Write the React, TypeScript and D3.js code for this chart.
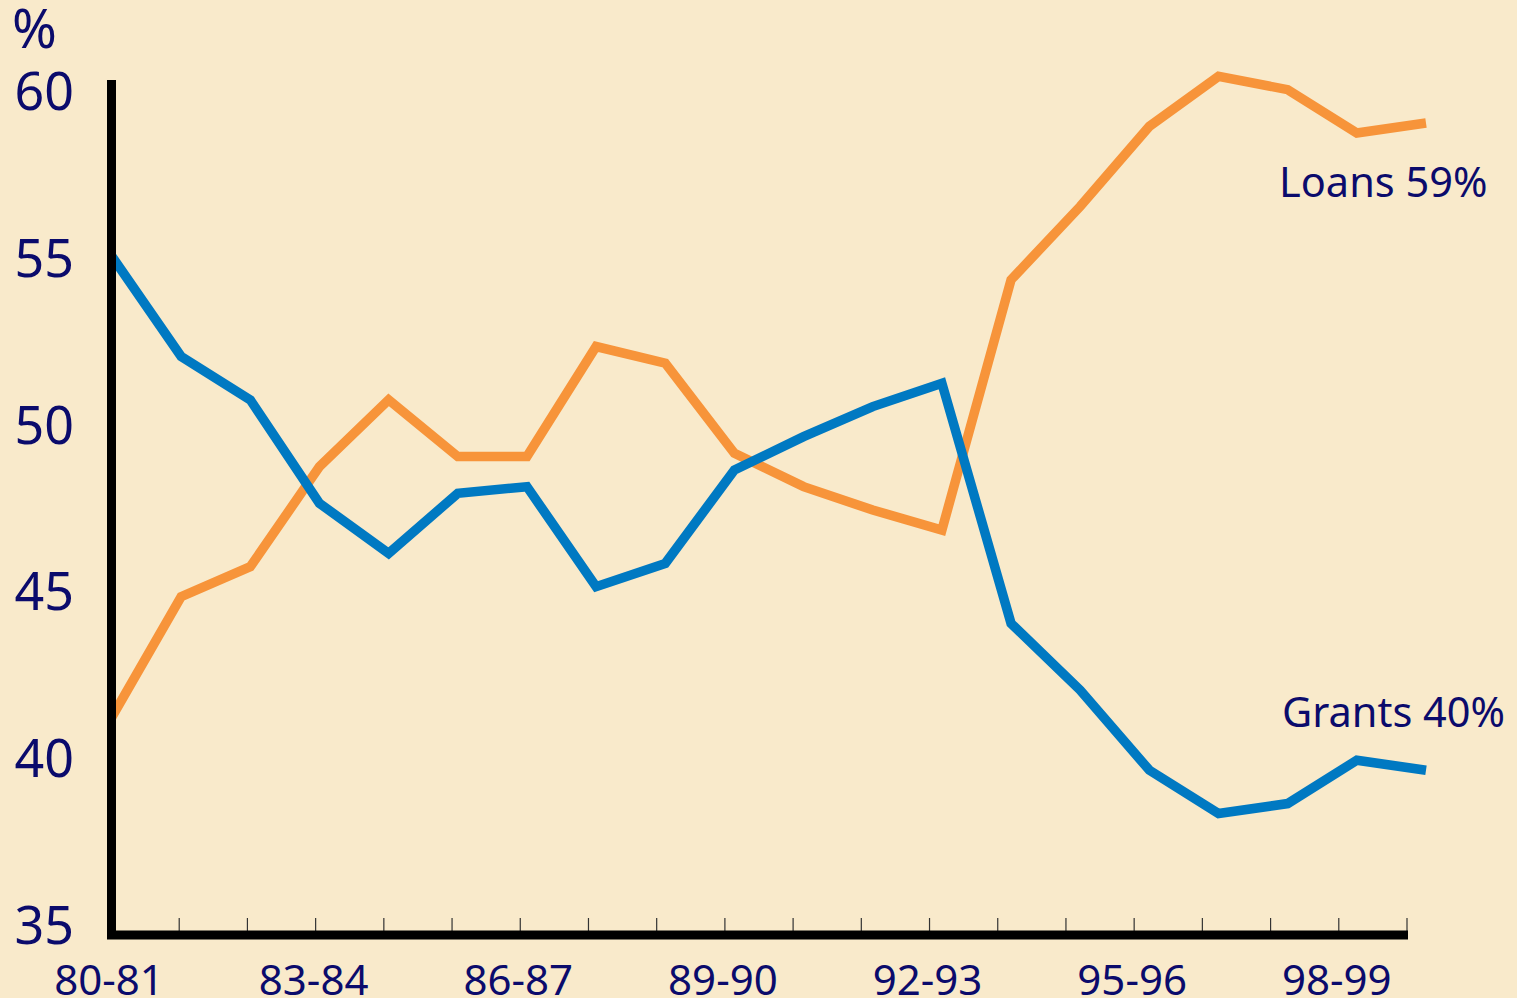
import React from "react";
import * as d3 from "d3";

const categories = [
  "80-81", "81-82", "82-83", "83-84", "84-85", "85-86", "86-87", "87-88", "88-89", "89-90",
  "90-91", "91-92", "92-93", "93-94", "94-95", "95-96", "96-97", "97-98", "98-99", "99-00",
];
const grants = [55.1, 52.1, 50.8, 47.7, 46.2, 48.0, 48.2, 45.2, 45.9, 48.7, 49.7, 50.6, 51.3, 44.1, 42.1, 39.7, 38.4, 38.7, 40.0, 39.7];
const loans = [41.3, 44.9, 45.8, 48.8, 50.8, 49.1, 49.1, 52.4, 51.9, 49.2, 48.2, 47.5, 46.9, 54.4, 56.6, 59.0, 60.5, 60.1, 58.8, 59.1];
const yTicks = [35, 40, 45, 50, 55, 60];
const labeledCategories = ["80-81", "83-84", "86-87", "89-90", "92-93", "95-96", "98-99"];
const seriesLabels = ["Loans 59%", "Grants 40%"];

const W = 1517;
const H = 998;
const NAVY = "#0b0b6c";
const FONT = "'Noto Sans', 'Open Sans', sans-serif";

export default function App() {
  const y = d3.scaleLinear().domain([35, 60]).range([927, 93]);
  const xTick = d3.scalePoint<string>().domain(categories).range([111, 1407]);
  const xLine = d3.scalePoint<string>().domain(categories).range([112, 1426]);

  const line = d3
    .line<number>()
    .x((_, i) => xLine(categories[i]) as number)
    .y((d) => y(d));

  return (
    <svg
      width={W}
      height={H}
      style={{ position: "absolute", left: 0, top: 0, display: "block" }}
    >
      <rect x={0} y={0} width={W} height={H} fill="#F9EACB" />

      {/* y tick labels */}
      {yTicks.map((t) => (
        <text
          key={t}
          x={74}
          y={y(t) + 17}
          textAnchor="end"
          fontFamily={FONT}
          fontSize={52}
          fill={NAVY}
        >
          {t}
        </text>
      ))}
      <text x={12} y={48} fontFamily={FONT} fontSize={54} fill={NAVY}>
        %
      </text>

      {/* x tick marks */}
      {categories.slice(1).map((c) => (
        <line
          key={c}
          x1={xTick(c)}
          x2={xTick(c)}
          y1={918}
          y2={932}
          stroke="#333"
          strokeWidth={1.2}
        />
      ))}

      {/* x labels */}
      {labeledCategories.map((c) => (
        <text
          key={c}
          x={(xTick(c) as number) - 2}
          y={995}
          textAnchor="middle"
          fontFamily={FONT}
          fontSize={42}
          fill={NAVY}
        >
          {c}
        </text>
      ))}

      {/* lines */}
      <path d={line(loans) || ""} fill="none" stroke="#F7943A" strokeWidth={9.5} strokeLinejoin="miter" />
      <path d={line(grants) || ""} fill="none" stroke="#0079C2" strokeWidth={9.5} strokeLinejoin="miter" />

      {/* axes */}
      <line x1={111.5} x2={111.5} y1={80} y2={939} stroke="#000" strokeWidth={9} />
      <line x1={107} x2={1408} y1={935} y2={935} stroke="#000" strokeWidth={9} />

      {/* series labels */}
      <text x={1279} y={197} fontFamily={FONT} fontSize={41.5} fill={NAVY}>
        {seriesLabels[0]}
      </text>
      <text x={1282} y={727} fontFamily={FONT} fontSize={41.5} fill={NAVY}>
        {seriesLabels[1]}
      </text>
    </svg>
  );
}
